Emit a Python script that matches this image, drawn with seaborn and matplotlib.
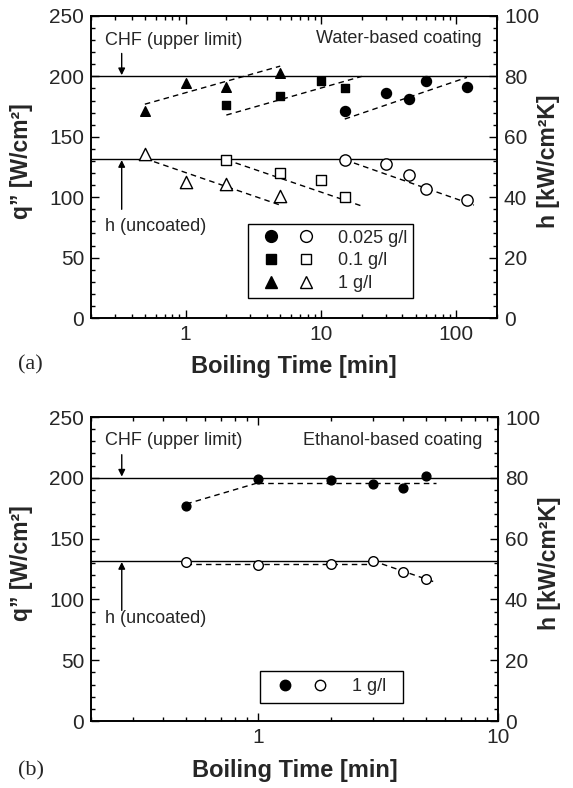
import matplotlib
matplotlib.use("Agg")
import matplotlib.pyplot as plt
import matplotlib.transforms as mtransforms
from matplotlib.lines import Line2D
from matplotlib.legend_handler import HandlerTuple
from matplotlib.ticker import MultipleLocator, NullFormatter, FixedLocator
import pandas as pd
import seaborn as sns

# ---- (a) water-based coating: q" (filled) and h (open) vs boiling time
t_w025 = [15, 30, 45, 60, 120]
q_w025 = [171, 186.5, 181, 196.5, 191]
h_w025 = [52.3, 50.9, 47.4, 42.6, 39.1]
t_w01 = [2, 5, 10, 15]
q_w01 = [176, 184, 196.5, 190.7]
h_w01 = [52.3, 47.9, 45.7, 40.2]
t_w1 = [0.5, 1, 2, 5]
q_w1 = [171, 194.3, 191.5, 203]
h_w1 = [54.3, 45.1, 44.3, 40.4]

# dashed trend segments (end points)
fit_q_w025 = ([15, 120], [164.7, 199.2])
fit_h_w025 = ([15, 135], [52.4, 37.4])
fit_q_w01 = ([2, 20], [168, 200])
fit_h_w01 = ([2, 20], [52.4, 37.1])
fit_q_w1 = ([0.5, 5], [177, 208.5])
fit_h_w1 = ([0.5, 5], [52.8, 37.4])

# ---- (b) ethanol-based coating, 1 g/l
t_e1 = [0.5, 1, 2, 3, 4, 5]
q_e1 = [176.8, 199.3, 198.2, 194.6, 191.9, 201.5]
h_e1 = [52.4, 51.3, 51.6, 52.7, 49.1, 46.7]
fit_q_e1 = [([0.5, 1], [178.5, 196]), ([1, 5.5], [196, 196])]
fit_h_e1 = [([0.5, 3], [51.6, 51.6]), ([3, 5.5], [52.7, 45.6])]

CHF = 200.0
H_UNCOATED = 52.7

FS_TICK = 15
FS_NOTE = 13
FS_LABEL = 17

sns.set_theme(style="ticks")
plt.rcParams["font.family"] = ["Liberation Sans", "DejaVu Sans"]
plt.rcParams["axes.linewidth"] = 1.2
plt.rcParams["axes.edgecolor"] = "black"

# marker areas (pt^2): filled / open
SIZES = {"o": (52, 66), "s": (38, 55), "^": (48, 78)}


def markers(ax, t, v, marker, filled, size):
    df = pd.DataFrame({"t": t, "v": v})
    sns.scatterplot(data=df, x="t", y="v", ax=ax, marker=marker, s=size,
                    color="black" if filled else "white", edgecolor="black",
                    linewidth=1.0, zorder=4, legend=False)


def trend(ax, seg):
    df = pd.DataFrame({"t": seg[0], "v": seg[1]})
    sns.lineplot(data=df, x="t", y="v", ax=ax, color="black", lw=1.0,
                 linestyle=(0, (4, 3)), zorder=3, legend=False)


def style_axes(ax, ax2, xmax, xticks, xlab_y):
    ax.set_xscale("log")
    ax.set_xlim(0.2, xmax)
    ax.set_ylim(0, 250)
    ax2.set_ylim(0, 100)
    ax.xaxis.set_major_locator(FixedLocator(xticks))
    ax.set_xticklabels([f"{x:g}" for x in xticks])
    ax.xaxis.set_minor_formatter(NullFormatter())
    ax.yaxis.set_major_locator(MultipleLocator(50))
    ax.yaxis.set_minor_locator(MultipleLocator(10))
    ax2.yaxis.set_major_locator(MultipleLocator(20))
    ax2.yaxis.set_minor_locator(MultipleLocator(4))
    for a in (ax, ax2):
        a.tick_params(which="both", direction="in", labelsize=FS_TICK,
                      color="black", width=1.0, pad=5)
        a.tick_params(which="major", length=6)
        a.tick_params(which="minor", length=3)
        for s in a.spines.values():
            s.set_visible(True)
            s.set_linewidth(1.2)
    ax.tick_params(which="both", top=True, right=False)
    ax.set_xlabel("Boiling Time [min]", fontsize=FS_LABEL, fontweight="bold")
    ax.set_ylabel("q\u201d [W/cm\u00b2]", fontsize=FS_LABEL - 0.5,
                  fontweight="bold")
    ax2.set_ylabel("h [kW/cm\u00b2K]", fontsize=FS_LABEL - 0.5,
                   fontweight="bold")
    ax.yaxis.set_label_coords(-0.170, 0.52)
    ax2.yaxis.set_label_coords(1.1256, 0.52)
    ax.xaxis.set_label_coords(0.5, xlab_y)
    for lab in (ax.yaxis.label, ax2.yaxis.label, ax.xaxis.label):
        lab.set_verticalalignment("center")
    ax.axhline(CHF, color="black", lw=1.0, zorder=2)
    ax2.axhline(H_UNCOATED, color="black", lw=1.0, zorder=2)


def notes(ax, coating, y_chf_txt, y_h_txt, y_h_tail):
    tr = mtransforms.blended_transform_factory(ax.transAxes, ax.transData)
    ax.text(0.034, y_chf_txt, "CHF (upper limit)", transform=tr,
            fontsize=FS_NOTE, va="center", ha="left")
    ax.annotate("", xy=(0.0756, CHF + 1), xycoords=tr,
                xytext=(0.0756, 219), textcoords=tr,
                arrowprops=dict(arrowstyle="-|>", color="black", lw=1.0,
                                mutation_scale=10, shrinkA=0, shrinkB=0))
    ax.text(0.034, y_h_txt, "h (uncoated)", transform=tr,
            fontsize=FS_NOTE, va="center", ha="left")
    ax.annotate("", xy=(0.0756, H_UNCOATED * 2.5 - 1), xycoords=tr,
                xytext=(0.0756, y_h_tail), textcoords=tr,
                arrowprops=dict(arrowstyle="-|>", color="black", lw=1.0,
                                mutation_scale=10, shrinkA=0, shrinkB=0))
    ax.text(0.962, 231, coating, transform=tr, fontsize=FS_NOTE,
            va="center", ha="right")


def pair_handle(marker, ms):
    full = Line2D([], [], ls="none", marker=marker, ms=ms, mfc="black",
                  mec="black", mew=1.0)
    empty = Line2D([], [], ls="none", marker=marker, ms=ms, mfc="white",
                   mec="black", mew=1.0)
    return (full, empty)


def framed_legend(ax, handles, labels, anchor, borderpad):
    leg = ax.legend(
        handles, labels,
        handler_map={tuple: HandlerTuple(ndivide=None, pad=0)},
        loc="upper left", bbox_to_anchor=anchor, numpoints=1,
        handlelength=3.9, handletextpad=0.8, labelspacing=0.33,
        borderpad=borderpad, fontsize=FS_NOTE, frameon=True, fancybox=False,
        framealpha=1, edgecolor="black", borderaxespad=0)
    leg.get_frame().set_linewidth(1.0)
    return leg


fig = plt.figure(figsize=(5.73, 7.88), dpi=100)

# ---------------- panel (a)
ax_a = fig.add_axes([0.1588, 0.5964, 0.7086, 0.3833])
ax_a2 = ax_a.twinx()
for t, q, h, m, fq, fh in [
    (t_w025, q_w025, h_w025, "o", fit_q_w025, fit_h_w025),
    (t_w01, q_w01, h_w01, "s", fit_q_w01, fit_h_w01),
    (t_w1, q_w1, h_w1, "^", fit_q_w1, fit_h_w1),
]:
    trend(ax_a, fq)
    trend(ax_a2, fh)
    markers(ax_a, t, q, m, True, SIZES[m][0])
    markers(ax_a2, t, h, m, False, SIZES[m][1])
style_axes(ax_a, ax_a2, 200, [1, 10, 100], -0.159)
notes(ax_a, "Water-based coating", 230, 76, 90)
framed_legend(ax_a2,
              [pair_handle("o", 8.5), pair_handle("s", 7.5),
               pair_handle("^", 8.5)],
              ["0.025 g/l", "0.1 g/l", "1 g/l"], (0.387, 0.311), 0.3)

# ---------------- panel (b)
ax_b = fig.add_axes([0.1588, 0.0850, 0.7103, 0.3858])
ax_b2 = ax_b.twinx()
for seg in fit_q_e1:
    trend(ax_b, seg)
for seg in fit_h_e1:
    trend(ax_b2, seg)
markers(ax_b, t_e1, q_e1, "o", True, 40)
markers(ax_b2, t_e1, h_e1, "o", False, 48)
style_axes(ax_b, ax_b2, 10, [1, 10], -0.164)
notes(ax_b, "Ethanol-based coating", 231, 84, 91)
framed_legend(ax_b2, [pair_handle("o", 7.5)], ["1 g/l  "],
              (0.415, 0.164), 0.4)

fig.text(18 / 573, 1 - 365 / 788, "(a)", fontsize=16, va="center",
         ha="left", family=["Liberation Serif", "DejaVu Serif"])
fig.text(18 / 573, 1 - 771 / 788, "(b)", fontsize=16, va="center",
         ha="left", family=["Liberation Serif", "DejaVu Serif"])

fig.savefig("out.png", dpi=100)
